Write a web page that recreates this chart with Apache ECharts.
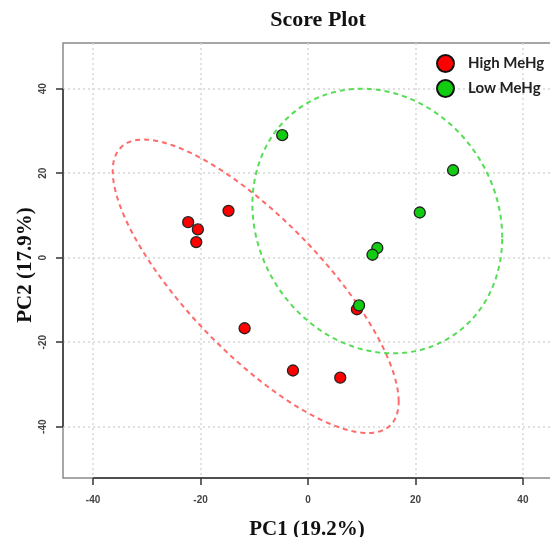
<!DOCTYPE html>
<html>
<head>
<meta charset="utf-8">
<script src="https://cdn.jsdelivr.net/npm/echarts@6/dist/echarts.min.js"></script>
<style>
  html, body { margin: 0; padding: 0; background: #fff; }
</style>
</head>
<body>
<div id="main" style="width:550px; height:537px;"></div>
<script>
// 刻度
var xTicks = [-40, -20, 0, 20, 40];
var yTicks = [-40, -20, 0, 20, 40];

// High MeHg 组 (PC1, PC2)
var highX = [-14.8, -22.3, -20.5, -20.8, -11.8, -2.8, 6.0, 9.1];
var highY = [11.1, 8.4, 6.7, 3.7, -16.7, -26.7, -28.4, -12.2];

// Low MeHg 组
var lowX = [-4.8, 12.9, 12.0, 9.5, 20.8, 27.0];
var lowY = [29.0, 2.3, 0.7, -11.3, 10.7, 20.7];

var xMin = -45.6, xMax = 46.9;
var yMin = -52.14, yMax = 50.82;

function pairs(xs, ys) {
  return xs.map(function (x, i) { return [x, ys[i]]; });
}

// 置信椭圆，由每组数据的协方差算出
function ellipse(xs, ys, level) {
  var n = xs.length;
  var mx = 0, my = 0;
  for (var i = 0; i < n; i++) { mx += xs[i]; my += ys[i]; }
  mx /= n; my /= n;
  var sxx = 0, syy = 0, sxy = 0;
  for (var j = 0; j < n; j++) {
    sxx += (xs[j] - mx) * (xs[j] - mx);
    syy += (ys[j] - my) * (ys[j] - my);
    sxy += (xs[j] - mx) * (ys[j] - my);
  }
  sxx /= n - 1; syy /= n - 1; sxy /= n - 1;
  var r = Math.sqrt(-2 * Math.log(1 - level));
  var a = Math.sqrt(sxx), b = sxy / a, c = Math.sqrt(syy - b * b);
  var pts = [];
  for (var k = 0; k <= 160; k++) {
    var t = 2 * Math.PI * k / 160;
    pts.push([mx + r * a * Math.cos(t), my + r * (b * Math.cos(t) + c * Math.sin(t))]);
  }
  return pts;
}

var myChart = echarts.init(document.getElementById('main'));
var option;

option = {
  animation: false,
  title: {
    text: 'Score Plot',
    left: 313,
    top: 4,
    textAlign: 'center',
    textStyle: { fontFamily: 'Liberation Serif', fontSize: 22, fontWeight: 'bold', color: '#111' }
  },
  legend: {
    data: ['High MeHg', 'Low MeHg'],
    orient: 'vertical',
    left: 431,
    top: 49,
    itemWidth: 17,
    itemHeight: 17,
    itemGap: 6,
    icon: 'circle',
    itemStyle: { borderColor: '#111', borderWidth: 2 },
    textStyle: { fontFamily: 'Lato', fontWeight: 'bold', fontSize: 15, color: '#222', padding: [0, 0, 0, 9] }
  },
  grid: {
    left: 63,
    right: -10,
    top: 43,
    bottom: 59,
    show: true,
    borderColor: '#8a8a8a',
    borderWidth: 1.5,
    backgroundColor: '#fff',
    outerBoundsMode: 'none'
  },
  xAxis: {
    type: 'value',
    min: xMin,
    max: xMax,
    name: 'PC1 (19.2%)',
    nameLocation: 'middle',
    nameGap: 41,
    nameMoveOverlap: false,
    nameTextStyle: { fontFamily: 'Liberation Serif', fontSize: 21, fontWeight: 'bold', color: '#111', padding: [0, 9, 0, 0] },
    axisLine: { show: false, onZero: false },
    axisTick: { show: true, inside: false, length: 7, customValues: xTicks, lineStyle: { color: '#333', width: 1.5 } },
    axisLabel: { customValues: xTicks, margin: 17, fontFamily: 'Liberation Sans', fontSize: 10, fontWeight: 'bold', color: '#444' },
    splitLine: { show: true, lineStyle: { type: [2, 3], color: '#d6d6d6', width: 1.5 } }
  },
  yAxis: {
    type: 'value',
    min: yMin,
    max: yMax,
    name: 'PC2 (17.9%)',
    nameLocation: 'middle',
    nameGap: 27,
    nameMoveOverlap: false,
    nameTextStyle: { fontFamily: 'Liberation Serif', fontSize: 21, fontWeight: 'bold', color: '#111', padding: [0, 9, 0, 0] },
    axisLine: { show: false, onZero: false },
    axisTick: { show: true, inside: false, length: 7, customValues: yTicks, lineStyle: { color: '#333', width: 1.5 } },
    axisLabel: { customValues: yTicks, rotate: 90, margin: 15, fontFamily: 'Liberation Sans', fontSize: 10, fontWeight: 'bold', color: '#444' },
    splitLine: { show: true, lineStyle: { type: [2, 3], color: '#d6d6d6', width: 1.5 } }
  },
  series: [
    {
      name: 'highEllipse',
      type: 'line',
      data: ellipse(highX, highY, 0.9),
      symbol: 'none',
      smooth: false,
      silent: true,
      clip: false,
      z: 1,
      lineStyle: { color: '#ff6b6b', width: 2, type: [5, 4] },
      markLine: {
        silent: true,
        symbol: ['none', 'none'],
        label: { show: false },
        lineStyle: { color: '#333', width: 1.5, type: 'solid' },
        data: [
          [{ coord: [xTicks[0], yMin] }, { coord: [xTicks[xTicks.length - 1], yMin] }],
          [{ coord: [xMin, yTicks[0]] }, { coord: [xMin, yTicks[yTicks.length - 1]] }]
        ]
      }
    },
    {
      name: 'lowEllipse',
      type: 'line',
      data: ellipse(lowX, lowY, 0.9),
      symbol: 'none',
      smooth: false,
      silent: true,
      z: 1,
      lineStyle: { color: '#55dd55', width: 2, type: [5, 4] }
    },
    {
      name: 'High MeHg',
      type: 'scatter',
      data: pairs(highX, highY),
      symbol: 'circle',
      symbolSize: 11,
      z: 3,
      itemStyle: { color: '#ff0000', borderColor: '#222', borderWidth: 1.3, opacity: 1 }
    },
    {
      name: 'Low MeHg',
      type: 'scatter',
      data: pairs(lowX, lowY),
      symbol: 'circle',
      symbolSize: 11,
      z: 4,
      itemStyle: { color: '#11cc11', borderColor: '#222', borderWidth: 1.3, opacity: 1 }
    }
  ]
};

option && myChart.setOption(option);
</script>
</body>
</html>
